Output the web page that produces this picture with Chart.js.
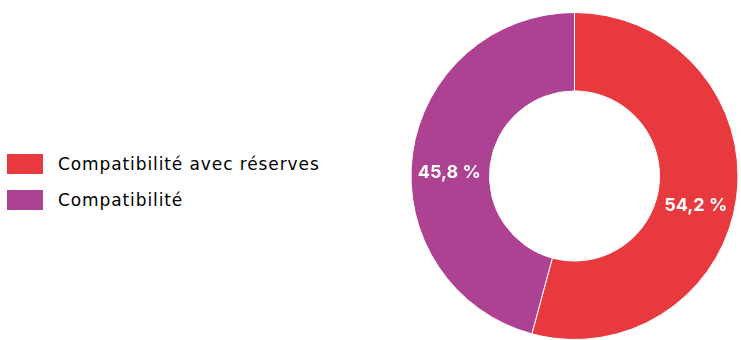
<!DOCTYPE html>
<html><head><meta charset="utf-8">
<script src="https://cdn.jsdelivr.net/npm/chart.js@4/dist/chart.umd.min.js"></script>
<style>
html,body{margin:0;padding:0;background:#fff;width:741px;height:340px;overflow:hidden;}
#legend{position:absolute;left:7px;top:154px;font-family:"DejaVu Sans", sans-serif;font-size:17px;color:#000;letter-spacing:0.9px;}
.item{display:flex;align-items:center;height:20px;margin-bottom:16px;}
.box{width:36px;height:20px;margin-right:15px;}
#wrap{position:absolute;left:408px;top:0;width:333px;height:340px;}
</style></head>
<body>
<div id="legend"></div>
<div id="wrap"><canvas id="c"></canvas></div>
<script>
const categories = ["Compatibilité avec réserves", "Compatibilité"];
const values = [54.2, 45.8];
const colors = ["#E8393F", "#AD4292"];

const leg = document.getElementById('legend');
categories.forEach((c,i)=>{
  const d=document.createElement('div');d.className='item';
  const b=document.createElement('div');b.className='box';b.style.background=colors[i];
  const t=document.createElement('span');t.textContent=c;
  d.appendChild(b);d.appendChild(t);leg.appendChild(d);
});

const labelPlugin = {
  id:'sliceLabels',
  afterDatasetsDraw(chart){
    const ctx=chart.ctx;
    const meta=chart.getDatasetMeta(0);
    ctx.save();
    ctx.font='bold 18px Inter, "Open Sans", sans-serif';
    ctx.fillStyle='#fff';
    ctx.textAlign='center';ctx.textBaseline='middle';
    meta.data.forEach((arc,i)=>{
      const p=arc.tooltipPosition();
      ctx.fillText(values[i].toFixed(1).replace('.',',')+' %', p.x-2, p.y+13);
    });
    ctx.restore();
  }
};

new Chart(document.getElementById('c'),{
  type:'doughnut',
  data:{labels:categories,datasets:[{data:values,backgroundColor:colors,borderColor:'#fff',borderWidth:1}]},
  options:{
    responsive:true,maintainAspectRatio:false,animation:false,
    cutout:'52%',
    layout:{padding:{top:12}},
    plugins:{legend:{display:false},tooltip:{enabled:false}}
  },
  plugins:[labelPlugin]
});
</script>
</body></html>
